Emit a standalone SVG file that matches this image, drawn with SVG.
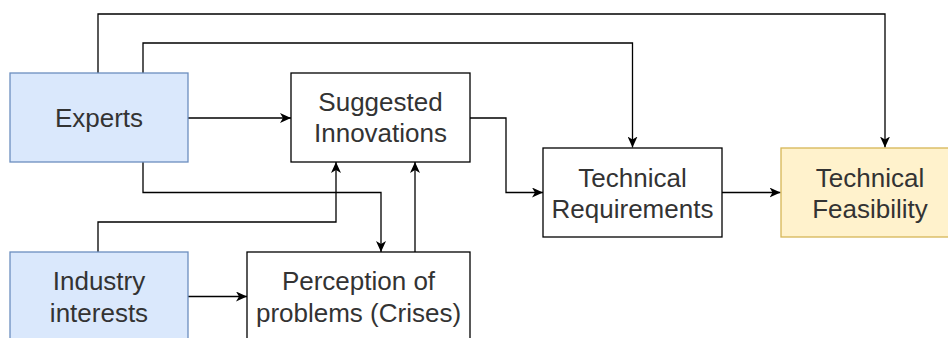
<svg xmlns="http://www.w3.org/2000/svg" width="948" height="338" viewBox="0 0 948 338">
  <style>
    .box { stroke-width: 1.3; }
    .plain { fill: #ffffff; stroke: #000000; }
    .blue { fill: #dae8fc; stroke: #6c8ebf; }
    .yellow { fill: #fff2cc; stroke: #d6b656; }
    .lbl { font-family: "Liberation Sans", Arial, Helvetica, sans-serif; font-size: 26px; fill: #333333; text-anchor: middle; }
    .edge { fill: none; stroke: #000000; stroke-width: 1.3; marker-end: url(#arrow); }
  </style>
  <defs>
    <marker id="arrow" markerUnits="userSpaceOnUse" markerWidth="12" markerHeight="10" refX="11" refY="5" orient="auto" viewBox="0 0 12 10">
      <path d="M0,0 L11,5 L0,10 L3,5 Z" fill="#000000"/>
    </marker>
  </defs>

  <rect width="948" height="338" fill="#ffffff"/>

  <g id="connectors">
    <!-- Experts to Technical Feasibility (outer loop) -->
    <path class="edge" d="M98,73 V14 H885 V147.5"/>
    <!-- Experts to Technical Requirements -->
    <path class="edge" d="M143,73 V43 H632.5 V147.5"/>
    <!-- Experts to Suggested Innovations -->
    <path class="edge" d="M188,118 H291"/>
    <!-- Suggested Innovations to Technical Requirements -->
    <path class="edge" d="M470,118 H506 V192.5 H543"/>
    <!-- Technical Requirements to Technical Feasibility -->
    <path class="edge" d="M722,192.5 H780.5"/>
    <!-- Experts to Perception of problems -->
    <path class="edge" d="M143,162 V192.5 H381 V252"/>
    <!-- Industry interests to Suggested Innovations -->
    <path class="edge" d="M98,252 V222 H336 V162"/>
    <!-- Perception of problems to Suggested Innovations -->
    <path class="edge" d="M415,252 V162"/>
    <!-- Industry interests to Perception of problems -->
    <path class="edge" d="M188,296.5 H247"/>
  </g>

  <g id="experts">
    <rect class="box blue" x="10" y="73" width="178" height="89"/>
    <text class="lbl" x="99" y="127">Experts</text>
  </g>

  <g id="suggested-innovations">
    <rect class="box plain" x="291" y="73" width="179" height="89"/>
    <text class="lbl" x="380.5" y="111">Suggested</text>
    <text class="lbl" x="380.5" y="142">Innovations</text>
  </g>

  <g id="technical-requirements">
    <rect class="box plain" x="543" y="148" width="179" height="89"/>
    <text class="lbl" x="632.5" y="186.5">Technical</text>
    <text class="lbl" x="632.5" y="217.5">Requirements</text>
  </g>

  <g id="technical-feasibility">
    <rect class="box yellow" x="781" y="148" width="179" height="89"/>
    <text class="lbl" x="870" y="186.5">Technical</text>
    <text class="lbl" x="870" y="217.5">Feasibility</text>
  </g>

  <g id="industry-interests">
    <rect class="box blue" x="10" y="252" width="178" height="90"/>
    <text class="lbl" x="99" y="290">Industry</text>
    <text class="lbl" x="99" y="322">interests</text>
  </g>

  <g id="perception-of-problems">
    <rect class="box plain" x="247" y="252" width="223" height="90"/>
    <text class="lbl" x="358.5" y="290">Perception of</text>
    <text class="lbl" x="358.5" y="322">problems (Crises)</text>
  </g>
</svg>
